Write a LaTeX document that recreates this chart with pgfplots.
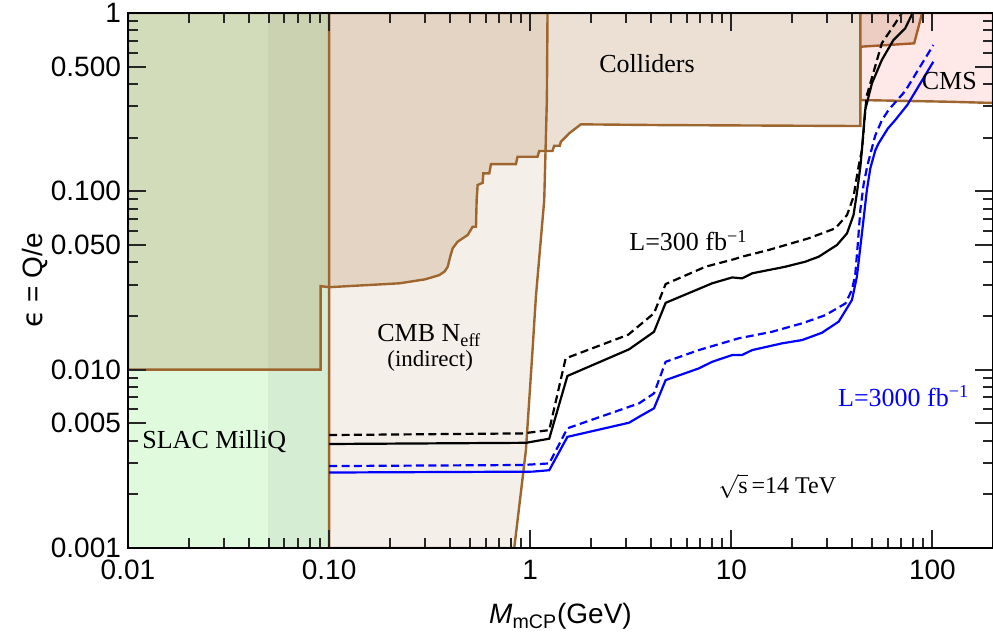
\documentclass[border=0pt]{standalone}
\usepackage{fontspec}
\setmainfont{Liberation Serif}
\setsansfont{Liberation Sans}
\newfontfamily\dejavu{DejaVu Sans}
\usepackage{pgfplots}
\pgfplotsset{compat=1.18}
\definecolor{bline}{rgb}{0.62,0.4,0.18}
\definecolor{slac}{rgb}{0.1,0.85,0.0}
\begin{document}
\begin{tikzpicture}
\begin{loglogaxis}[
  scale only axis, width=432.5pt, height=267.5pt,
  xmin=0.01, xmax=200, ymin=0.001, ymax=1,
  axis on top,
  xtick={0.01,0.1,1,10,100}, xticklabels={0.01,0.10,1,10,100},
  ytick={0.001,0.005,0.01,0.05,0.1,0.5,1},
  yticklabels={0.001,0.005,0.010,0.050,0.100,0.500,1},
  minor xtick={0.02,0.03,0.04,0.05,0.06,0.07,0.08,0.09,0.2,0.3,0.4,0.5,0.6,0.7,0.8,0.9,2,3,4,5,6,7,8,9,20,30,40,50,60,70,80,90},
  minor ytick={0.002,0.003,0.004,0.006,0.007,0.008,0.009,0.02,0.03,0.04,0.06,0.07,0.08,0.09,0.2,0.3,0.4,0.6,0.7,0.8,0.9},
  tick align=inside,
  major tick length=9pt, minor tick length=5pt,
  tick style={black!85, line width=1pt},
  axis line style={line width=0.6pt},
  ticklabel style={font=\fontsize{14}{16}\sffamily},
  xticklabel style={yshift=-2.5pt},
  /pgf/number format/assume math mode=true,
  label style={font=\fontsize{14}{16}\sffamily},
  xlabel={\textit{M}\textsubscript{mCP}(GeV)},
  ylabel={{\dejavu ϵ} = Q/e},
  xlabel style={at={(axis description cs:0.5,-0.142)}, anchor=base},
  ylabel style={at={(axis description cs:-0.0983,0.5)}, anchor=base},
]
% SLAC MilliQ
\addplot[draw=none, fill=slac, fill opacity=0.135] coordinates {(0.01,0.001) (0.1,0.001) (0.1,1) (0.01,1)} -- cycle;
\addplot[draw=none, fill=black, fill opacity=0.05] coordinates {(0.0496,0.001) (0.1,0.001) (0.1,1) (0.0496,1)} -- cycle;
% Colliders
\addplot[draw=bline, line width=1.2pt, fill=bline, fill opacity=0.2] coordinates {
(0.01,0.01) (0.0908,0.01) (0.0908,0.0294) (0.1,0.029) (0.224,0.0305) (0.3,0.0321)
(0.353,0.0339) (0.375,0.0355) (0.389,0.0378) (0.40,0.043) (0.4115,0.0479) (0.4357,0.0522)
(0.4885,0.0569) (0.517,0.0633) (0.5375,0.0633) (0.5415,0.0894) (0.5477,0.1085) (0.580,0.1117)
(0.5845,0.1262) (0.626,0.1262) (0.638,0.1422) (0.849,0.1422) (0.865,0.1563) (1.087,0.1563)
(1.108,0.1683) (1.290,0.1683) (1.315,0.1802) (1.404,0.1802) (1.420,0.1897) (1.504,0.2024)
(1.562,0.2114) (1.785,0.2375) (4.37,0.2353) (43.8,0.2324) (43.8,0.647) (81.1,0.676)
(87.9,0.953) (88.5,1) (0.01,1)} -- cycle;
% CMB N_eff
\addplot[draw=bline, line width=1.2pt, fill=bline, fill opacity=0.1] coordinates {
(0.1,0.001) (0.833,0.001) (0.952,0.00354) (1.027,0.01288) (1.067,0.0256) (1.174,0.0894)
(1.210,0.325) (1.219,1) (0.1,1)} -- cycle;
% CMS
\addplot[draw=bline, line width=1.2pt, fill=red, fill opacity=0.09] coordinates {
(43.8,0.325) (43.8,1) (200,1) (200,0.313) (120,0.318)} -- cycle;
% L = 300 fb^-1
\addplot[black, line width=1.1pt] coordinates {
(0.1,0.00383) (0.952,0.00389) (1.243,0.00410) (1.531,0.00922) (3.10,0.01300) (4.125,0.0163)
(4.714,0.0237) (8.03,0.0305) (10.1,0.0329) (11.3,0.0325) (12.7,0.0347) (18.6,0.0378)
(23.3,0.0403) (27.2,0.0430) (33.5,0.0500) (37.6,0.0581) (40.5,0.0736) (42.1,0.0975)
(43.8,0.1374) (44.6,0.1704) (46.3,0.286) (50.0,0.403) (56.0,0.545) (64,0.706) (73.2,0.82) (79.7,1)};
\addplot[black, line width=1.1pt, dash pattern=on 4pt off 2.2pt] coordinates {
(0.1,0.00430) (0.913,0.00439) (1.243,0.00458) (1.50,0.01157) (3.07,0.0157) (4.125,0.0207)
(4.714,0.0302) (7.45,0.0378) (10.29,0.0416) (11.3,0.0430) (15.35,0.0469) (24.2,0.0545)
(32.9,0.0620) (37.6,0.0736) (40.5,0.0932) (42.9,0.1374) (44.6,0.1704) (47,0.34)
(56.0,0.676) (65.3,0.875) (70.5,1)};
% L = 3000 fb^-1
\addplot[blue, line width=1.1pt] coordinates {
(0.1,0.00265) (1.027,0.00268) (1.243,0.00273) (1.531,0.00420) (3.10,0.00504) (3.475,0.00544)
(4.125,0.00607) (4.714,0.00874) (6.90,0.01017) (8.03,0.01107) (10.1,0.01208) (11.3,0.01208)
(12.7,0.01288) (17.9,0.01405) (22.5,0.01466) (28.2,0.0161) (34.2,0.0186) (39.8,0.0246)
(42.1,0.0332) (44.6,0.0581) (47.2,0.1017) (49.1,0.1346) (52,0.17) (54.0,0.186) (60,0.225)
(65.3,0.251) (75,0.305) (101,0.533)};
\addplot[blue, line width=1.1pt, dash pattern=on 4pt off 2.2pt] coordinates {
(0.1,0.00288) (0.913,0.00292) (1.243,0.00298) (1.531,0.00469) (3.10,0.00619) (3.475,0.00647)
(4.125,0.00736) (4.714,0.01107) (6.90,0.01288) (10.9,0.0150) (15.9,0.0163) (22.5,0.0182)
(29.3,0.0202) (36.9,0.0235) (39.8,0.0280) (41.3,0.034) (42.5,0.05) (43.8,0.0786) (45.5,0.11)
(47.5,0.14) (51.9,0.205) (56,0.25) (60.5,0.286) (73.2,0.365) (101,0.661)};
% labels
\node[anchor=base, inner sep=0pt, font=\fontsize{13}{15}\selectfont] at (axis cs:3.81,0.4626) {Colliders};
\node[anchor=base west, inner sep=0pt, font=\fontsize{13}{15}\selectfont] at (axis cs:88.2,0.373) {CMS};
\node[anchor=base, inner sep=0pt, font=\fontsize{13}{15}\selectfont] at (axis cs:0.315,0.01434) {CMB N\textsubscript{eff}};
\node[anchor=base, inner sep=0pt, font=\fontsize{11.5}{13}\selectfont] at (axis cs:0.318,0.0104) {(indirect)};
\node[anchor=base west, inner sep=0pt, font=\fontsize{13}{15}\selectfont] at (axis cs:0.01174,0.00362) {SLAC MilliQ};
\node[anchor=base west, inner sep=0pt, font=\fontsize{13}{15}\selectfont] at (axis cs:3.10,0.0463) {L=300 fb\textsuperscript{\char"2212 1}};
\node[anchor=base west, inner sep=0pt, text=blue, font=\fontsize{13}{15}\selectfont] at (axis cs:33.8,0.00625) {L=3000 fb\textsuperscript{\char"2212 1}};
\node[anchor=base west, inner sep=0pt, font=\fontsize{12}{14}\selectfont] at (axis cs:8.57,0.00203) {$\sqrt{\mbox{s}}$\,=14 TeV};
\coordinate (bl) at (rel axis cs:0,0);
\coordinate (tr) at (rel axis cs:1,1);
\end{loglogaxis}
\pgfresetboundingbox
\path ([xshift=-64pt,yshift=-43pt]bl) rectangle ([yshift=6.5pt]tr);
\end{tikzpicture}
\end{document}
